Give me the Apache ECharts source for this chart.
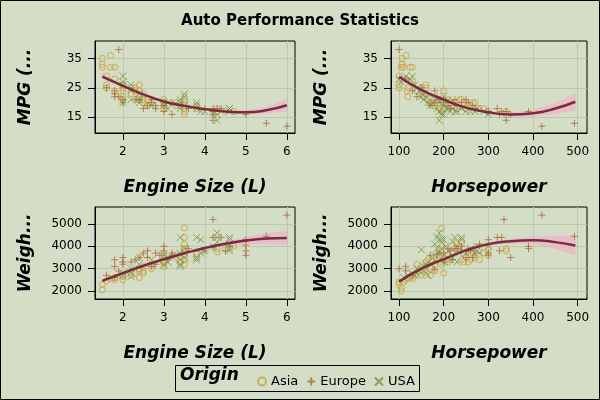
<!DOCTYPE html>
<html>
<head>
<meta charset="utf-8">
<script src="https://cdn.jsdelivr.net/npm/echarts@6/dist/echarts.min.js"></script>
<style>
  html, body { margin: 0; padding: 0; background: #d4ddc5; }
  #chart { width: 600px; height: 400px; }
</style>
</head>
<body>
<div id="chart"></div>
<script>
// tick values
const engineTicks = [2, 3, 4, 5, 6]
const hpTicks = [100, 200, 300, 400, 500]
const mpgTicks = [15, 25, 35]
const weightTicks = [2000, 3000, 4000, 5000]

// scatter points, [x, y] per origin
const asiaEngineMpg = [[1.5,35],[1.5,33],[1.5,32],[1.7,36],[1.7,32],[1.8,32],[1.6,29],[1.6,26],[1.6,25],[1.8,28],[1.8,24],[2.0,26],[2.0,24],[2.0,22],[2.0,25],[2.0,21],[2.2,23],[2.3,25],[2.3,24],[2.4,26],[2.4,24],[2.4,22],[2.4,21],[2.5,23],[2.5,21],[2.5,20],[2.6,21],[2.6,19],[2.7,20],[3.0,21],[3.0,20],[3.0,19],[3.0,18],[3.3,20],[3.3,19],[3.5,21],[3.5,20],[3.5,19],[3.5,18],[3.5,17],[3.5,16],[3.8,19],[3.8,18],[4.3,18],[4.3,17],[4.5,17],[4.7,17]]
const europeEngineMpg = [[1.9,38],[1.6,25],[1.8,24],[1.8,23],[1.8,22],[1.9,22],[2.0,21],[2.0,20],[2.3,21],[2.4,21],[2.5,18],[2.6,19],[2.7,21],[2.7,20],[2.8,19],[2.8,18],[3.0,19],[3.0,17],[3.2,16],[3.2,20],[3.6,18],[4.0,18],[4.2,18],[4.2,17],[4.2,16],[4.2,14],[4.3,18],[4.4,18],[5.0,16],[5.5,13],[6.0,12]]
const usaEngineMpg = [[2.0,29],[2.0,27],[2.0,26],[2.0,20],[2.2,26],[2.2,25],[2.2,24],[2.2,21],[2.4,23],[2.4,21],[2.4,20],[2.7,19],[3.0,20],[3.0,19],[3.1,20],[3.1,18],[3.4,21],[3.4,20],[3.4,19],[3.4,18],[3.5,23],[3.5,22],[3.5,19],[3.8,20],[3.8,19],[3.8,18],[3.9,17],[4.0,17],[4.2,16],[4.3,16],[4.3,14],[4.6,18],[4.6,17],[4.6,18]]

const asiaHpMpg = [[100,29],[100,26],[100,25],[105,32],[107,35],[107,33],[110,32],[116,36],[115,28],[118,24],[120,22],[120,25],[125,32],[130,32],[130,27],[140,24],[150,25],[155,22],[160,26],[160,25],[160,23],[165,21],[170,20],[175,20],[180,19],[190,18],[195,17],[195,21],[200,24],[200,20],[200,18],[210,21],[215,20],[220,19],[225,20],[230,18],[235,21],[240,21],[245,20],[250,18],[255,19],[265,20],[270,20],[280,18],[290,18],[300,17],[340,17],[340,16]]
const europeHpMpg = [[100,38],[115,28],[130,24],[140,22],[150,25],[170,19],[180,24],[180,20],[185,22],[190,21],[200,21],[200,20],[210,19],[215,18],[220,20],[225,21],[230,19],[240,20],[250,21],[255,20],[265,19],[270,18],[300,17],[320,18],[325,16],[330,17],[340,14],[340,17],[350,16],[390,17],[420,12],[493,13]]
const usaHpMpg = [[100,28],[105,27],[115,29],[125,28],[130,29],[135,26],[140,25],[145,24],[150,23],[150,22],[155,21],[160,22],[165,20],[170,19],[175,20],[180,21],[185,18],[190,14],[190,17],[190,20],[195,16],[200,16],[200,19],[200,22],[205,18],[210,18],[210,21],[215,17],[220,18],[225,17],[230,17],[240,18],[250,17],[260,17],[270,17],[275,18],[290,17],[300,16]]

const asiaEngineWeight = [[1.5,2050],[1.5,2300],[1.6,2450],[1.7,2550],[1.8,2600],[1.8,2500],[2.0,2650],[2.0,2700],[2.0,2500],[2.2,2700],[2.3,2800],[2.4,2900],[2.4,3000],[2.4,2600],[2.5,3100],[2.5,2900],[2.5,2800],[2.7,3000],[2.7,3150],[3.0,3100],[3.0,3300],[3.0,3250],[3.0,3400],[3.0,3600],[3.3,3500],[3.3,3600],[3.4,3300],[3.5,3200],[3.5,3400],[3.5,3600],[3.5,3800],[3.5,3900],[3.5,4100],[3.5,4400],[3.5,4830],[3.8,3500],[3.8,3650],[4.3,3900],[4.3,3750],[4.5,3900],[4.7,4000]]
const europeEngineWeight = [[1.6,2700],[1.8,2600],[1.8,3100],[1.8,3400],[1.9,2900],[2.0,3200],[2.0,3500],[2.0,3300],[2.2,3300],[2.3,3400],[2.4,3500],[2.5,3700],[2.6,3800],[2.6,3500],[2.7,3100],[2.8,3200],[2.8,3700],[2.9,3600],[3.0,4000],[3.0,3800],[3.1,3400],[3.2,3700],[3.2,3600],[3.6,3900],[4.0,3800],[4.2,5200],[4.2,4400],[4.2,3950],[4.4,4400],[4.5,3800],[4.6,4000],[5.0,4300],[5.0,4050],[5.0,3800],[5.0,3600],[5.5,4450],[6.0,5400]]
const usaEngineWeight = [[2.0,2800],[2.0,2700],[2.2,2800],[2.2,2650],[2.2,3000],[2.4,3200],[2.4,3500],[2.7,3400],[3.0,3150],[3.0,3600],[3.1,3300],[3.1,3500],[3.4,3100],[3.4,3400],[3.4,3700],[3.4,4400],[3.4,3200],[3.5,3500],[3.5,3700],[3.5,3900],[3.8,3400],[3.8,3500],[3.8,4400],[3.9,4300],[3.9,3700],[4.0,3800],[4.2,4000],[4.3,4600],[4.3,4200],[4.3,4400],[4.6,4400],[4.6,4300],[4.6,3900],[4.6,4100],[4.6,3800]]

const asiaHpWeight = [[100,2400],[100,2300],[105,2150],[105,2000],[110,2400],[115,2500],[120,2600],[125,2600],[130,2550],[135,2700],[140,3200],[145,2900],[150,2900],[150,2700],[155,3000],[160,3100],[160,3300],[165,3400],[170,3000],[170,2700],[175,3300],[180,3200],[180,2900],[185,3400],[190,3500],[195,4800],[195,4000],[195,3200],[200,2800],[200,3500],[210,3300],[210,3600],[215,3400],[220,3700],[225,3900],[230,4100],[235,4000],[240,3400],[240,4200],[245,3300],[250,3500],[255,3300],[260,3400],[265,3700],[270,3500],[280,3400],[290,3700],[300,3600],[300,3900],[340,3900],[340,3800]]
const europeHpWeight = [[100,3000],[115,3100],[115,2900],[130,2700],[170,3600],[180,2950],[185,3650],[190,3700],[200,3700],[200,3300],[210,3900],[215,3800],[220,3400],[225,3900],[230,3900],[240,4000],[240,3800],[250,3500],[255,3800],[260,3800],[265,3500],[270,3700],[280,4100],[300,4300],[300,3600],[300,3700],[320,4400],[325,3800],[330,4400],[335,5200],[350,3500],[390,4000],[390,3900],[420,5400],[493,4450]]
const usaHpWeight = [[110,2600],[120,2700],[130,2800],[135,2700],[140,2800],[140,3000],[145,2900],[150,3850],[150,3000],[155,3100],[160,2800],[160,3200],[165,2700],[170,3200],[175,3500],[180,4100],[180,3600],[185,4400],[185,3900],[190,4300],[190,3700],[190,4600],[195,4300],[195,3900],[200,4300],[200,3300],[200,3600],[205,4000],[210,3800],[215,3400],[220,4200],[220,3500],[225,4400],[230,3300],[230,4000],[235,3700],[240,4400],[240,4300],[245,3800],[250,3700],[260,3900],[275,3800],[275,4000],[280,3700],[300,4000]]

// loess fits and confidence limits
const engineFitX = [1.5, 2, 2.5, 3, 3.5, 4, 4.5, 5, 5.5, 6]
const mpgEngineFit = [28.8, 25.7, 22.8, 20.4, 18.9, 17.8, 17.0, 16.7, 17.4, 19.1]
const mpgEngineLo = [27.9, 25.1, 22.4, 20.0, 18.5, 17.4, 16.5, 16.0, 16.3, 17.0]
const mpgEngineHi = [29.7, 26.3, 23.2, 20.8, 19.3, 18.2, 17.5, 17.4, 18.5, 21.2]
const hpFitX = [100, 150, 200, 250, 300, 350, 400, 450, 495]
const mpgHpFit = [28.8, 24.3, 21.0, 18.3, 16.7, 16.0, 16.4, 18.0, 20.3]
const mpgHpLo = [28.0, 23.8, 20.6, 17.9, 16.2, 15.3, 15.2, 16.2, 17.3]
const mpgHpHi = [29.6, 24.8, 21.4, 18.7, 17.2, 16.7, 17.6, 19.8, 23.3]
const weightEngineFit = [2450, 2800, 3130, 3420, 3690, 3930, 4120, 4260, 4350, 4380]
const weightEngineLo = [2360, 2750, 3090, 3380, 3650, 3880, 4040, 4100, 4110, 4050]
const weightEngineHi = [2540, 2850, 3170, 3460, 3730, 3980, 4200, 4420, 4590, 4710]
const weightHpFit = [2420, 3000, 3430, 3820, 4100, 4230, 4270, 4190, 4040]
const weightHpLo = [2340, 2950, 3380, 3770, 4030, 4130, 4100, 3890, 3590]
const weightHpHi = [2500, 3050, 3480, 3870, 4170, 4330, 4440, 4490, 4490]

const bg = '#d4ddc5'
const gridColor = '#bec8ad'
const colors = { Asia: '#c9a03a', Europe: '#ad6a3d', USA: '#7a9147' }
const symbols = {
  Asia: 'circle',
  Europe: 'path://M5,0L5,10M0,5L10,5',
  USA: 'path://M0,0L10,10M10,0L0,10'
}
const fitColor = '#7a2b40'
const bandColor = 'rgba(242,175,198,0.65)'
const font = 'DejaVu Sans'

const chart = echarts.init(document.getElementById('chart'))

const valueAxis = (min, max, ticks, name, isY) => ({
  type: 'value',
  min, max,
  name,
  nameLocation: 'middle',
  nameGap: isY ? 61 : 46,
  nameRotate: isY ? 90 : 0,
  nameTextStyle: { fontFamily: font, fontSize: 17, fontWeight: 'bold', fontStyle: 'italic', color: '#000' },
  axisLine: { show: true, lineStyle: { color: '#000', width: 1 } },
  axisTick: { show: true, length: 7, customValues: ticks, lineStyle: { color: '#000' } },
  axisLabel: { customValues: ticks, margin: 13, fontFamily: font, fontSize: 12, color: '#000', formatter: v => String(v) },
  splitLine: { show: true, lineStyle: { color: gridColor, width: 1 } }
})

const scatter = (name, data, idx) => ({
  name,
  type: 'scatter',
  xAxisIndex: idx, yAxisIndex: idx,
  data,
  symbol: symbols[name],
  symbolSize: name === 'Asia' ? 6 : 7,
  itemStyle: { color: 'transparent', borderColor: colors[name], borderWidth: 1 },
  z: 3
})

const band = (idx, xs, lo, hi) => ({
  type: 'custom',
  xAxisIndex: idx, yAxisIndex: idx,
  silent: true,
  data: xs.map((x, i) => [x, lo[i], hi[i]]),
  encode: { x: 0, y: [1, 2] },
  renderItem: (params, api) => {
    if (params.dataIndex !== 0) return null
    const pts = []
    xs.forEach((x, i) => pts.push(api.coord([x, hi[i]])))
    for (let i = xs.length - 1; i >= 0; i--) pts.push(api.coord([xs[i], lo[i]]))
    return { type: 'polygon', shape: { points: pts }, style: { fill: bandColor } }
  },
  z: 2
})

const fit = (idx, xs, ys) => ({
  type: 'line',
  xAxisIndex: idx, yAxisIndex: idx,
  data: xs.map((x, i) => [x, ys[i]]),
  smooth: true,
  showSymbol: false,
  silent: true,
  lineStyle: { color: fitColor, width: 2.5 },
  z: 4
})

const option = {
  backgroundColor: bg,
  animation: false,
  title: {
    text: 'Auto Performance Statistics',
    left: 'center', top: 9,
    textStyle: { fontFamily: font, fontSize: 15, fontWeight: 'bold', color: '#000' }
  },
  grid: [
    { left: 95, top: 41, width: 200, height: 92 },
    { left: 391, top: 41, width: 196, height: 92 },
    { left: 95, top: 207, width: 200, height: 92 },
    { left: 391, top: 207, width: 196, height: 92 }
  ].map(g => Object.assign(g, { show: true, borderColor: '#000', borderWidth: 1, backgroundColor: 'transparent' })),
  xAxis: [
    valueAxis(1.32, 6.2, engineTicks, 'Engine Size (L)', false),
    valueAxis(82, 521, hpTicks, 'Horsepower', false),
    valueAxis(1.32, 6.2, engineTicks, 'Engine Size (L)', false),
    valueAxis(82, 521, hpTicks, 'Horsepower', false)
  ].map((a, i) => Object.assign(a, { gridIndex: i })),
  yAxis: [
    valueAxis(9.7, 40.9, mpgTicks, 'MPG (...', true),
    valueAxis(9.7, 40.9, mpgTicks, 'MPG (...', true),
    valueAxis(1640, 5765, weightTicks, 'Weigh...', true),
    valueAxis(1640, 5765, weightTicks, 'Weigh...', true)
  ].map((a, i) => Object.assign(a, { gridIndex: i })),
  legend: {
    data: ['Asia', 'Europe', 'USA'],
    left: 252, top: 370,
    itemWidth: 8, itemHeight: 8, itemGap: 8,
    textStyle: { fontFamily: font, fontSize: 13, color: '#000' }
  },
  graphic: [
    { type: 'rect', shape: { x: 0.5, y: 0.5, width: 599, height: 399 }, style: { fill: 'none', stroke: '#000', lineWidth: 1 }, silent: true },
    { type: 'rect', shape: { x: 175.5, y: 365.5, width: 244, height: 26 }, style: { fill: 'none', stroke: '#000', lineWidth: 1 }, silent: true },
    { type: 'text', left: 180, top: 367, style: { text: 'Origin', fontFamily: font, fontSize: 17, fontWeight: 'bold', fontStyle: 'italic', fill: '#000' }, silent: true }
  ],
  series: [
    band(0, engineFitX, mpgEngineLo, mpgEngineHi),
    band(1, hpFitX, mpgHpLo, mpgHpHi),
    band(2, engineFitX, weightEngineLo, weightEngineHi),
    band(3, hpFitX, weightHpLo, weightHpHi),
    scatter('Asia', asiaEngineMpg, 0),
    scatter('Europe', europeEngineMpg, 0),
    scatter('USA', usaEngineMpg, 0),
    scatter('Asia', asiaHpMpg, 1),
    scatter('Europe', europeHpMpg, 1),
    scatter('USA', usaHpMpg, 1),
    scatter('Asia', asiaEngineWeight, 2),
    scatter('Europe', europeEngineWeight, 2),
    scatter('USA', usaEngineWeight, 2),
    scatter('Asia', asiaHpWeight, 3),
    scatter('Europe', europeHpWeight, 3),
    scatter('USA', usaHpWeight, 3),
    fit(0, engineFitX, mpgEngineFit),
    fit(1, hpFitX, mpgHpFit),
    fit(2, engineFitX, weightEngineFit),
    fit(3, hpFitX, weightHpFit)
  ]
}

chart.setOption(option)
</script>
</body>
</html>
